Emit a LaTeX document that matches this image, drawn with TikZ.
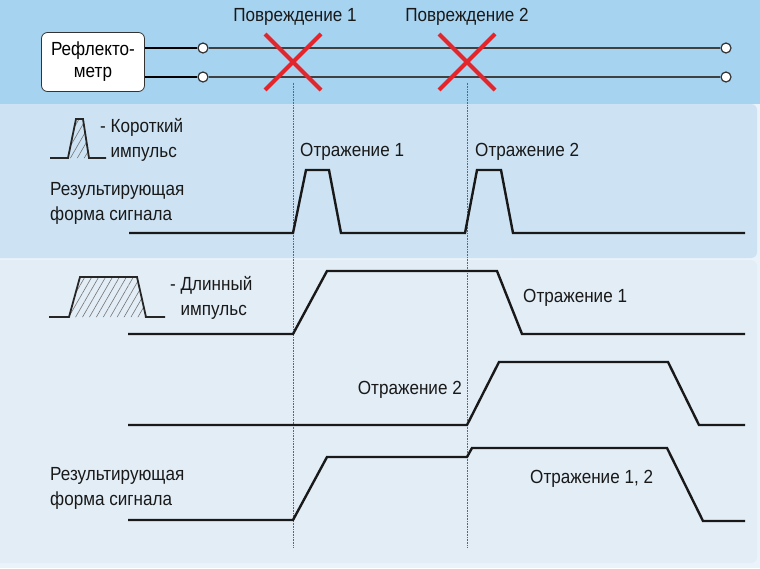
\documentclass[tikz,border=0pt]{standalone}
\usepackage{fontspec}
\setmainfont{Liberation Sans}[FakeStretch=0.9]
\usetikzlibrary{patterns.meta,shapes.misc}
\definecolor{skyband}{HTML}{A6D3F0}
\definecolor{lowerbg}{HTML}{EAF3F9}
\definecolor{panelA}{HTML}{CDE3F3}
\definecolor{panelB}{HTML}{E2EDF6}
\definecolor{crossred}{HTML}{E3262B}
\tikzset{
  lbl/.style={font=\fontsize{19}{25}\selectfont, inner sep=0pt, text=black!90, align=left},
  meter/.style={draw=black!80, thick, rounded corners=6pt, fill=white, align=center,
                minimum width=103pt, minimum height=59pt, inner sep=0pt,
                font=\fontsize{19}{22}\selectfont},
  term/.style={circle, draw=black!80, fill=white, inner sep=0pt, minimum size=10pt, line width=1.2pt},
  wire/.style={line width=1.5pt, black!75},
  lead/.style={line width=2.6pt, black},
  sig/.style={line width=2.4pt, black!90, line join=miter},
  icon/.style={line width=1.8pt, black!85},
  hatch/.style={pattern={Lines[angle=60,distance=6pt,line width=0.6pt]}, pattern color=black!55},
  fault/.style={cross out, draw=crossred, line width=4pt, minimum size=52pt, inner sep=0pt},
  guide/.style={densely dotted, black!60, line width=0.6pt},
}
\begin{document}
\begin{tikzpicture}[x=1pt,y=-1pt]
  \useasboundingbox (0,0) rectangle (760,568);
  % background
  \fill[skyband] (0,0) rectangle (760,104);
  \fill[lowerbg] (0,104) rectangle (760,568);
  \fill[panelA, rounded corners=6pt] (-10,104) rectangle (757,258);
  \fill[panelB, rounded corners=6pt] (-10,260) rectangle (757,563);

  % line and faults
  \node[meter] (refl) at (93,62) {Рефлекто-\\метр};
  \node[term] (ta) at (203,48) {};
  \node[term] (tb) at (726,48) {};
  \node[term] (tc) at (203,77) {};
  \node[term] (td) at (726,77) {};
  \draw[lead] (refl.east |- ta) -- (ta);
  \draw[lead] (refl.east |- tc) -- (tc);
  \draw[wire] (ta) -- (tb);
  \draw[wire] (tc) -- (td);
  \node[fault] (f1) at (293,62) {};
  \node[fault] (f2) at (467,62) {};
  \node[lbl, anchor=south] (f1lbl) at (295,26) {Повреждение 1};
  \node[lbl, anchor=south] (f2lbl) at (467,26) {Повреждение 2};
  \coordinate (bot) at (0,548);
  \draw[guide] (f1 |- tc.south) -- (f1 |- bot);
  \draw[guide] (f2 |- tc.south) -- (f2 |- bot);

  % short pulse
  \fill[hatch] (68,158) -- (76,119) -- (83,119) -- (89,158) -- cycle;
  \draw[icon] (50,158) -- (68,158) -- (76,119) -- (83,119) -- (89,158) -- (106,158);
  \node[lbl, anchor=west] (short) at (100,140) {- Короткий\\\hphantom{- }импульс};
  \node[lbl, anchor=west] (res1) at (50,203) {Результирующая\\форма сигнала};
  \draw[sig] (129,233) -- (293,233) -- (306,170) -- (329,170) -- (341,233) -- (465,233)
    -- (477,170) -- (501,170) -- (513,233) -- (745,233);
  \node[lbl, anchor=west] (r1a) at (300,152) {Отражение 1};
  \node[lbl, anchor=west] (r2a) at (475,152) {Отражение 2};

  % long pulse
  \fill[hatch] (69,317) -- (80,277) -- (137,277) -- (146,317) -- cycle;
  \draw[icon] (49,317) -- (69,317) -- (80,277) -- (137,277) -- (146,317) -- (165,317);
  \node[lbl, anchor=west] (long) at (170,298) {- Длинный\\\hphantom{- }импульс};
  \draw[sig] (128,334) -- (293,334) -- (327,271) -- (497,271) -- (522,334) -- (745,334);
  \node[lbl, anchor=west] (r1b) at (523,298) {Отражение 1};
  \draw[sig] (128,425) -- (467,425) -- (499,362) -- (668,362) -- (699,425) -- (745,425);
  \node[lbl, anchor=east] (r2b) at (462,390) {Отражение 2};
  \node[lbl, anchor=west] (res2) at (50,488) {Результирующая\\форма сигнала};
  \draw[sig] (128,520) -- (293,520) -- (327,457) -- (467,457) -- (472,448) -- (667,448)
    -- (703,521) -- (745,521);
  \node[lbl, anchor=west] (r12) at (530,479) {Отражение 1, 2};
\end{tikzpicture}
\end{document}
